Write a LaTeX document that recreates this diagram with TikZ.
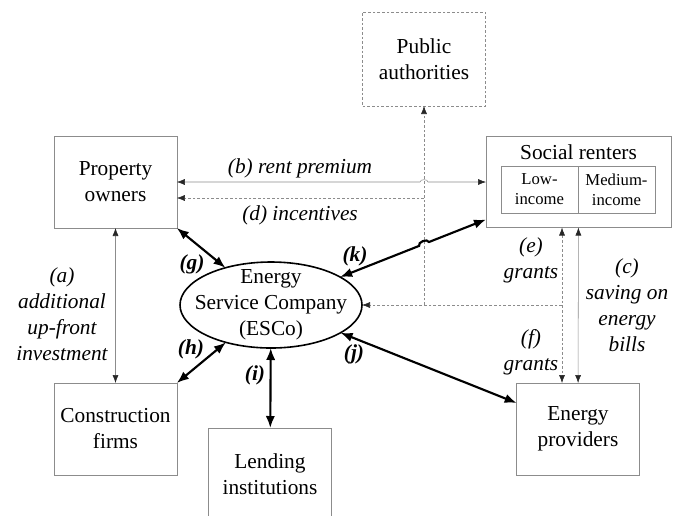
\documentclass[tikz,border=0pt]{standalone}
\usepackage{fontspec}
\setmainfont{Liberation Serif}
\usetikzlibrary{arrows.meta,shapes.geometric,calc}

\begin{document}
\begin{tikzpicture}
  [x=0.75pt,y=-0.75pt,>={Latex[length=6pt,width=4.5pt,color=black!85]},
   font=\fontsize{16}{19.5}\selectfont,
   box/.style={rectangle,draw=black!45,align=center,outer sep=0,
               minimum width=92pt,minimum height=69pt},
   dashbox/.style={box,dash pattern=on 2pt off 1.5pt},
   cell/.style={box,minimum width=57.75pt,minimum height=35.25pt,inner sep=1pt,
                font=\fontsize{12.5}{15}\selectfont},
   company/.style={ellipse,draw,line width=1.2pt,outer sep=0,
                   minimum width=136.5pt,minimum height=64.5pt},
   link/.style={draw=black!45},
   dashlink/.style={draw=black!45,dash pattern=on 2pt off 1.5pt},
   strong/.style={line width=1.6pt,{Latex[length=9pt,width=7pt]}-{Latex[length=9pt,width=7pt]}},
   tag/.style={font=\fontsize{16}{19.5}\selectfont\itshape,align=center},
   key/.style={font=\fontsize{16}{19.5}\selectfont\bfseries\itshape}]
  \useasboundingbox (0,0) rectangle (681,515);
  % actors
  \node[box] (owners) at (115.5,182) {Property\\owners};
  \node[box] (firms) at (115.5,429) {Construction\\firms};
  \node[box] (lenders) at (270,474) {Lending\\institutions};
  \node[box] (providers) at (578,429) {Energy\\providers};
  \node[dashbox,minimum height=70.5pt] (authorities) at (424,59) {Public\\authorities};
  \node[box,minimum width=138.75pt,minimum height=68.25pt] (renters) at (578.5,182) {};
  \node (rtitle) at (578.5,152) {Social renters};
  \node[cell] (low) at (539.5,189.5) {Low-\\income};
  \node[cell] (medium) at (616.5,189.5) {Medium-\\income};
  \node[company] (esco) at (271,305) {};
  \node[align=center] (escotext) at (esco) {Energy\\Service Company\\(ESCo)};
  % thin flows
  \coordinate (cross) at (authorities.south |- owners.east);
  \draw[link,<->] (owners.east) -- ($(cross)+(-4,0)$) to[bend left=90] ($(cross)+(4,0)$) -- (renters.west);
  \draw[link,<->] (owners) -- (firms);
  \draw[link,<->] (renters) -- (providers);
  % dashed flows
  \coordinate (hub) at (authorities.south |- esco.east);
  \coordinate (split) at (562,305);
  \coordinate (dsplit) at (424,198);
  \draw[dashlink,->] (hub) -- (authorities);
  \draw[dashlink,->] (split) -- (esco);
  \draw[dashlink,->] (dsplit) -- (owners.east |- dsplit);
  \draw[dashlink,<->] (renters.south -| split) -- (providers.north -| split);
  % ESCo contracts
  \draw[strong] (owners.south east) -- (esco);
  \draw[strong] (firms.north east) -- (esco);
  \draw[strong] (esco) -- (lenders);
  \draw[strong] (esco) -- ([yshift=-15pt]providers.north west);
  \coordinate (kend) at ([yshift=6pt]renters.south west);
  \coordinate (kcross) at (intersection of esco.22--kend and authorities.south--hub);
  \draw[strong] (esco.22) -- ($(kcross)!4pt!(esco.22)$) to[bend left=90] ($(kcross)!4pt!(kend)$) -- (kend);
  % labels
  \node[tag] (la) at (62,314) {(a)\\additional\\up-front\\investment};
  \node[tag] (lb) at (300,168) {(b) rent premium};
  \node[tag] (lc) at (627,305) {(c)\\saving on\\energy\\bills};
  \node[tag] (ld) at (300,215) {(d) incentives};
  \node[tag] (le) at (531,260) {(e)\\grants};
  \node[tag] (lf) at (531,352) {(f)\\grants};
  \node[key] (lg) at (192,264) {(g)};
  \node[key] (lh) at (191,349) {(h)};
  \node[key] (li) at (255,375) {(i)};
  \node[key] (lj) at (354,354) {(j)};
  \node[key] (lk) at (355,256) {(k)};
\end{tikzpicture}
\end{document}
